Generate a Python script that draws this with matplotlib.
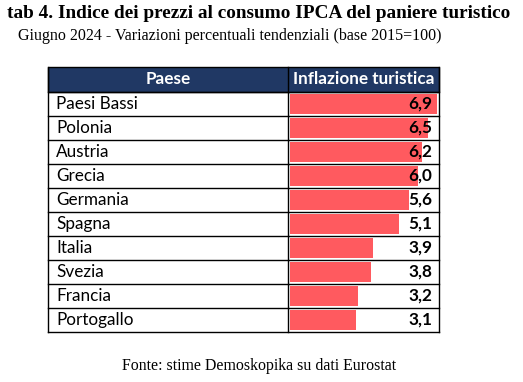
import matplotlib.pyplot as plt

# -----------------------------
# Data
# -----------------------------
paesi = ["Paesi Bassi", "Polonia", "Austria", "Grecia", "Germania",
         "Spagna", "Italia", "Svezia", "Francia", "Portogallo"]
inflazione = [6.9, 6.5, 6.2, 6.0, 5.6, 5.1, 3.9, 3.8, 3.2, 3.1]

TITLE = "tab 4. Indice dei prezzi al consumo IPCA del paniere turistico"
SUBTITLE = "Giugno 2024 - Variazioni percentuali tendenziali (base 2015=100)"
SOURCE = "Fonte: stime Demoskopika su dati Eurostat"
HEADERS = ["Paese", "Inflazione turistica"]

W, H = 523, 382
NAVY = "#203864"
BAR = "#FF5A5F"
SERIF = "Liberation Serif"
SANS = "Lato"

fig = plt.figure(figsize=(W / 100, H / 100), dpi=100)


def fx(px):
    return px / W


def fy(py):
    return 1 - py / H


# table geometry (pixels)
x_left, x_mid, x_right = 48, 288, 439
y_head, y_top, row_h = 67, 92, 24
n = len(paesi)
y_bot = y_top + n * row_h

# header background
fig.patches.append(plt.Rectangle((fx(x_left), fy(y_top)), fx(x_right - x_left),
                                 (y_top - y_head) / H, transform=fig.transFigure,
                                 facecolor=NAVY, edgecolor="black", lw=1))
fig.text(fx((x_left + x_mid) / 2), fy((y_head + y_top) / 2), HEADERS[0],
         color="white", fontsize=12.3, fontweight="bold", family=SANS,
         ha="center", va="center")
fig.text(fx((x_mid + x_right) / 2), fy((y_head + y_top) / 2), HEADERS[1],
         color="white", fontsize=12.3, fontweight="bold", family=SANS,
         ha="center", va="center")

# bar column axes
ax = fig.add_axes([fx(x_mid), fy(y_bot), fx(x_right - x_mid), (y_bot - y_top) / H])
px_per_unit = 21.3
ax.set_xlim(-2 / px_per_unit, (x_right - x_mid - 2) / px_per_unit)
ax.set_ylim(n, 0)
ypos = [i + 0.5 for i in range(n)]
ax.barh(ypos, inflazione, left=0, height=0.86, color=BAR)
for y, v in zip(ypos, inflazione):
    ax.text((x_right - x_mid - 9) / px_per_unit, y, f"{v:.1f}".replace(".", ","),
            ha="right", va="center", fontsize=12.3, fontweight="bold", family=SANS)
ax.axis("off")

# row labels and grid lines
for i, p in enumerate(paesi):
    fig.text(fx(x_left + 8), fy(y_top + (i + 0.5) * row_h), p,
             fontsize=12.3, family=SANS, ha="left", va="center")
for i in range(n + 1):
    yy = fy(y_top + i * row_h)
    fig.add_artist(plt.Line2D([fx(x_left), fx(x_right)], [yy, yy],
                              color="black", lw=1, transform=fig.transFigure))
for xx in [x_left, x_mid, x_right]:
    fig.add_artist(plt.Line2D([fx(xx), fx(xx)], [fy(y_head), fy(y_bot)],
                              color="black", lw=1, transform=fig.transFigure))

# titles and source
fig.text(fx(7), fy(14), TITLE, fontsize=13.9, fontweight="bold", family=SERIF,
         ha="left", va="center")
fig.text(fx(18), fy(36), SUBTITLE, fontsize=11.5, family=SERIF,
         ha="left", va="center")
fig.text(fx(259), fy(366), SOURCE, fontsize=11.4, family=SERIF,
         ha="center", va="center")

fig.savefig("out.png", dpi=100)
